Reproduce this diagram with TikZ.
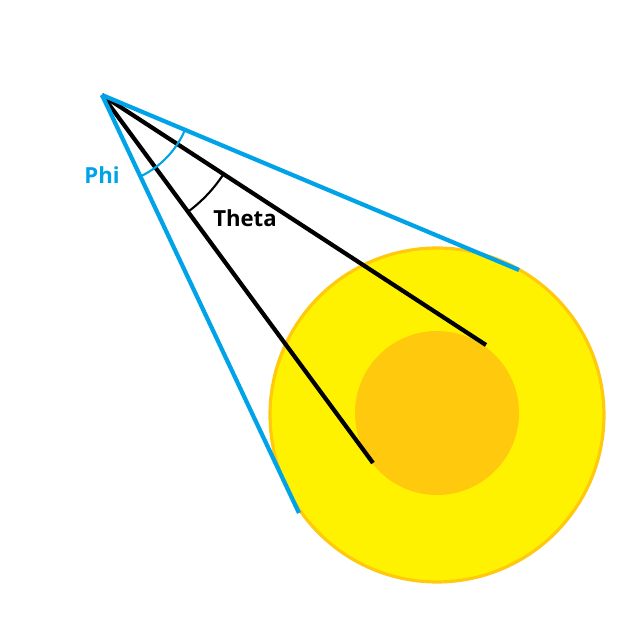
\documentclass[tikz,border=0pt]{standalone}
\usepackage{fontspec}
\setmainfont{Open Sans}
\definecolor{sunY}{HTML}{FFF200}
\definecolor{sunO}{HTML}{FFC90E}
\definecolor{skyB}{HTML}{00A2E8}
\begin{document}
\begin{tikzpicture}[x=0.01cm,y=-0.01cm,
  blk/.style={line width=1.2pt,black},
  blu/.style={line width=1.2pt,skyB},
  lbl/.style={font=\bfseries\fontsize{6.3pt}{7pt}\selectfont,inner sep=0pt}]
\useasboundingbox (0,0) rectangle (638,621);
\fill[sunY,draw=sunO,line width=0.9pt] (437,415) circle (167);
\fill[sunO] (437,413) circle (82);
\coordinate (apex) at (102,95);
\coordinate (b1) at (486,345);
\coordinate (b2) at (373,463);
\coordinate (c1) at (519,270);
\coordinate (c2) at (299,513);
\draw[blk] (apex) -- (b1);
\draw[blk] (apex) -- (b2);
\draw[blu] (apex) -- (c1);
\draw[blu] (apex) -- (c2);
\draw[blk,line width=0.6pt] (apex) ++(33:145) arc (33:53.6:145);
\draw[blu,line width=0.6pt] (apex) ++(22.8:90) arc (22.8:64:90);
\node[lbl,skyB] (phi) at (102,175) {Phi};
\node[lbl] (theta) at (245,218) {Theta};
\end{tikzpicture}
\end{document}
